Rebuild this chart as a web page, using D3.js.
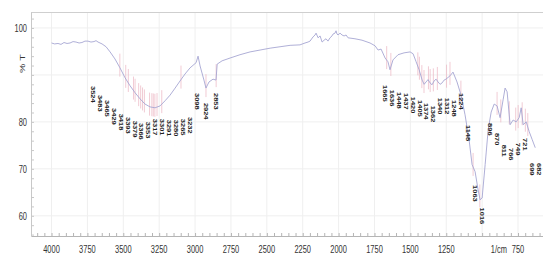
<!DOCTYPE html>
<html>
<head>
<meta charset="utf-8">
<script src="https://cdn.jsdelivr.net/npm/d3@7/dist/d3.min.js"></script>
<style>
  body { margin: 0; background: #fff; }
  svg { display: block; font-family: "Liberation Sans", Arial, sans-serif; }
</style>
</head>
<body>
<div id="chart"></div>
<script>
// spectrum: wavenumber (1/cm) and %T
var specWn = [4000,3978,3955,3934,3913,3892,3871,3850,3829,3808,
  3788,3767,3746,3725,3704,3690,3676,3648,3620,3592,
  3558,3523,3488,3453,3418,3383,3349,3314,3279,3244,
  3209,3174,3139,3105,3070,3035,2993,2979,2965,2938,
  2924,2903,2875,2854,2846,2812,2756,2687,2617,2547,
  2477,2408,2338,2269,2234,2213,2199,2178,2164,2157,
  2143,2129,2115,2101,2088,2074,2060,2046,2039,2025,
  2018,2011,2004,1990,1976,1962,1948,1934,1886,1837,
  1781,1746,1725,1704,1676,1656,1642,1621,1586,1544,
  1502,1481,1460,1439,1418,1404,1391,1377,1363,1349,
  1335,1321,1307,1293,1279,1265,1252,1224,1203,1175,
  1147,1119,1091,1070,1049,1028,1014,1000,979,958,
  937,916,896,875,854,840,826,805,784,763,
  742,728,714,693,672,651,630];
var specT = [96.8,96.6,96.7,96.5,96.9,96.7,96.8,97.1,97.0,96.8,
  96.9,97.2,97.2,97.0,97.1,97.3,97.0,96.6,96.0,94.9,
  93.4,91.5,89.4,87.7,86.2,84.9,83.8,83.2,83.0,83.4,
  84.5,85.7,87.2,88.7,90.2,91.5,92.6,94.0,91.9,88.9,
  87.2,88.5,89.1,88.9,92.3,93.0,93.6,94.3,94.9,95.3,
  95.7,96.0,96.3,96.4,96.8,97.0,97.2,98.1,98.5,98.9,
  97.9,98.3,97.0,97.4,97.7,97.2,97.9,98.3,98.7,98.9,
  99.4,98.7,98.5,98.9,98.5,98.3,98.5,97.9,97.7,97.4,
  96.8,96.2,95.3,95.5,93.6,92.8,91.1,93.2,94.3,94.7,
  94.9,94.5,92.8,91.1,88.9,88.0,88.5,89.0,88.3,87.9,
  88.7,89.1,88.5,88.0,88.3,88.9,89.1,89.8,90.6,88.5,
  85.7,81.5,76.2,70.9,69.4,65.5,63.4,63.8,70.9,78.3,
  82.1,83.8,83.4,80.9,84.7,87.2,86.4,79.4,80.4,80.0,
  80.9,83.0,79.4,80.0,77.9,76.2,74.5];

// picked peaks and the %T level each label hangs from
var peakWn = [3524,3483,3465,3429,3418,3393,3379,3366,3353,3317,3301,3291,3280,3265,3232,
  3098,2924,2853,
  1665,1636,1448,1437,1420,1405,1374,1362,1340,1312,1248,1224,1148,1063,1016,
  896,870,811,766,749,721,699,682];
var peakT = [90.2,88.3,87.2,85.5,84.3,83.6,82.8,82.3,82.6,83.2,83.2,83.0,83.0,83.2,83.6,
  88.7,86.6,88.7,
  90.4,89.4,88.9,88.7,87.9,87.2,86.6,86.0,87.7,87.7,87.2,88.7,81.9,69.1,64.3,
  82.3,80.2,77.7,77.0,78.1,79.1,73.8,73.8];

var xTicks = [4000,3750,3500,3250,3000,2750,2500,2250,2000,1750,1500,1250,1000,750];
var xTickLabels = ["4000","3750","3500","3250","3000","2750","2500","2250","2000","1750","1500","1250","","750"];
var yTicks = [60,70,80,90,100];
var yTickLabels = ["60","70","80","","100"];

var width = 543, height = 254;
var margin = {top: 12, right: 0, bottom: 18, left: 31};
var squeeze = 0.65; // the reference text is narrow

var svg = d3.select("#chart")
  .append("svg")
    .attr("width", width)
    .attr("height", height);

var x = d3.scaleLinear()
  .domain([4143, 576])
  .range([margin.left, width - margin.right]);

var y = d3.scaleLinear()
  .domain([55.7, 103.4])
  .range([height - margin.bottom, margin.top]);

// faint grid
svg.append("g").selectAll("line")
  .data(xTicks)
  .enter()
  .append("line")
    .attr("x1", function(d) { return x(d); })
    .attr("x2", function(d) { return x(d); })
    .attr("y1", margin.top)
    .attr("y2", height - margin.bottom)
    .attr("stroke", "#efefef");

svg.append("g").selectAll("line")
  .data(yTicks)
  .enter()
  .append("line")
    .attr("x1", margin.left)
    .attr("x2", width - margin.right)
    .attr("y1", function(d) { return y(d); })
    .attr("y2", function(d) { return y(d); })
    .attr("stroke", "#efefef");

// top frame
svg.append("line")
  .attr("x1", margin.left).attr("x2", width)
  .attr("y1", margin.top + 0.5).attr("y2", margin.top + 0.5)
  .attr("stroke", "#cfcfcf");

// axes, ticks only
var xAxis = d3.axisBottom(x)
  .tickValues(d3.range(600, 4150, 50))
  .tickSize(-3)
  .tickSizeOuter(0)
  .tickFormat("");

var yAxis = d3.axisLeft(y)
  .tickValues(d3.range(56, 104, 2))
  .tickSize(-3)
  .tickSizeOuter(0)
  .tickFormat("");

var gx = svg.append("g")
  .attr("class", "x axis")
  .attr("transform", "translate(0," + (height - margin.bottom) + ")")
  .call(xAxis);

var gy = svg.append("g")
  .attr("class", "y axis")
  .attr("transform", "translate(" + margin.left + ",0)")
  .call(yAxis);

gx.select(".domain").attr("stroke", "#b5b5b5");
gx.selectAll(".tick line").attr("stroke", "#b5b5b5");
gy.select(".domain").attr("stroke", "#c8c8c8");
gy.selectAll(".tick line").attr("stroke", "#c8c8c8");

// tick labels
svg.append("g").selectAll("text")
  .data(xTicks)
  .enter()
  .append("text")
    .attr("transform", function(d) {
      return "translate(" + x(d) + "," + (height - margin.bottom + 17) + ") scale(" + squeeze + ",1)";
    })
    .attr("text-anchor", "middle")
    .attr("font-size", "11.5px")
    .attr("fill", "#333")
    .text(function(d, i) { return xTickLabels[i]; });

svg.append("text")
  .attr("transform", "translate(" + (x(750) - 11) + "," + (height - margin.bottom + 17) + ") scale(" + squeeze + ",1)")
  .attr("text-anchor", "end")
  .attr("font-size", "11.5px")
  .attr("fill", "#333")
  .text("1/cm");

svg.append("g").selectAll("text")
  .data(yTicks)
  .enter()
  .append("text")
    .attr("transform", function(d) {
      return "translate(" + (margin.left - 4) + "," + y(d) + ") scale(" + squeeze + ",1)";
    })
    .attr("dy", "0.35em")
    .attr("text-anchor", "end")
    .attr("font-size", "11.5px")
    .attr("fill", "#333")
    .text(function(d, i) { return yTickLabels[i]; });

svg.append("text")
  .attr("transform", "translate(25," + (y(92.4)) + ") scale(" + squeeze + ",1) rotate(-90)")
  .attr("text-anchor", "middle")
  .attr("font-size", "10.5px")
  .attr("fill", "#333")
  .text("% T");

// %T on the traced curve at a given wavenumber
function specAt(wn) {
  for (var i = 0; i < specWn.length - 1; i++) {
    if (wn <= specWn[i] && wn >= specWn[i + 1]) {
      var t = (specWn[i] - wn) / (specWn[i] - specWn[i + 1]);
      return specT[i] + t * (specT[i + 1] - specT[i]);
    }
  }
  return specT[specT.length - 1];
}

// push crowded labels apart, each group centred on its peaks
function spreadLabels(xs, gap) {
  var groups = [];
  xs.forEach(function(v) {
    groups.push({sum: v, n: 1});
    while (groups.length > 1) {
      var b = groups[groups.length - 1], a = groups[groups.length - 2];
      var aEnd = a.sum / a.n + (a.n - 1) * gap / 2;
      var bStart = b.sum / b.n - (b.n - 1) * gap / 2;
      if (bStart - aEnd >= gap) break;
      a.sum += b.sum; a.n += b.n;
      groups.pop();
    }
  });
  var out = [];
  groups.forEach(function(g) {
    var start = g.sum / g.n - (g.n - 1) * gap / 2;
    for (var k = 0; k < g.n; k++) out.push(start + k * gap);
  });
  return out;
}

// peak markers
svg.append("g").selectAll("line")
  .data(peakWn)
  .enter()
  .append("line")
    .attr("x1", function(d) { return x(d); })
    .attr("x2", function(d) { return x(d); })
    .attr("y1", function(d) { return y(specAt(d)) - 14; })
    .attr("y2", function(d) { return y(specAt(d)) + 9; })
    .attr("stroke", "#ebb4c2")
    .attr("stroke-width", 0.7);

// spectrum
var line = d3.line()
  .x(function(d, i) { return x(specWn[i]); })
  .y(function(d) { return y(d); });

svg.append("path")
  .datum(specT)
  .attr("d", line)
  .attr("fill", "none")
  .attr("stroke", "#a6a6d3")
  .attr("stroke-width", 0.9);

// peak labels
var labelX = spreadLabels(peakWn.map(function(d) { return x(d); }), 6.9);

svg.append("g").selectAll("text")
  .data(peakWn)
  .enter()
  .append("text")
    .attr("transform", function(d, i) {
      return "translate(" + labelX[i] + "," + (y(peakT[i]) + 12) + ") scale(0.75,1) rotate(90)";
    })
    .attr("dy", "0.35em")
    .attr("font-size", "7.5px")
    .attr("font-weight", "bold")
    .attr("fill", "#222")
    .text(function(d) { return d; });
</script>
</body>
</html>
